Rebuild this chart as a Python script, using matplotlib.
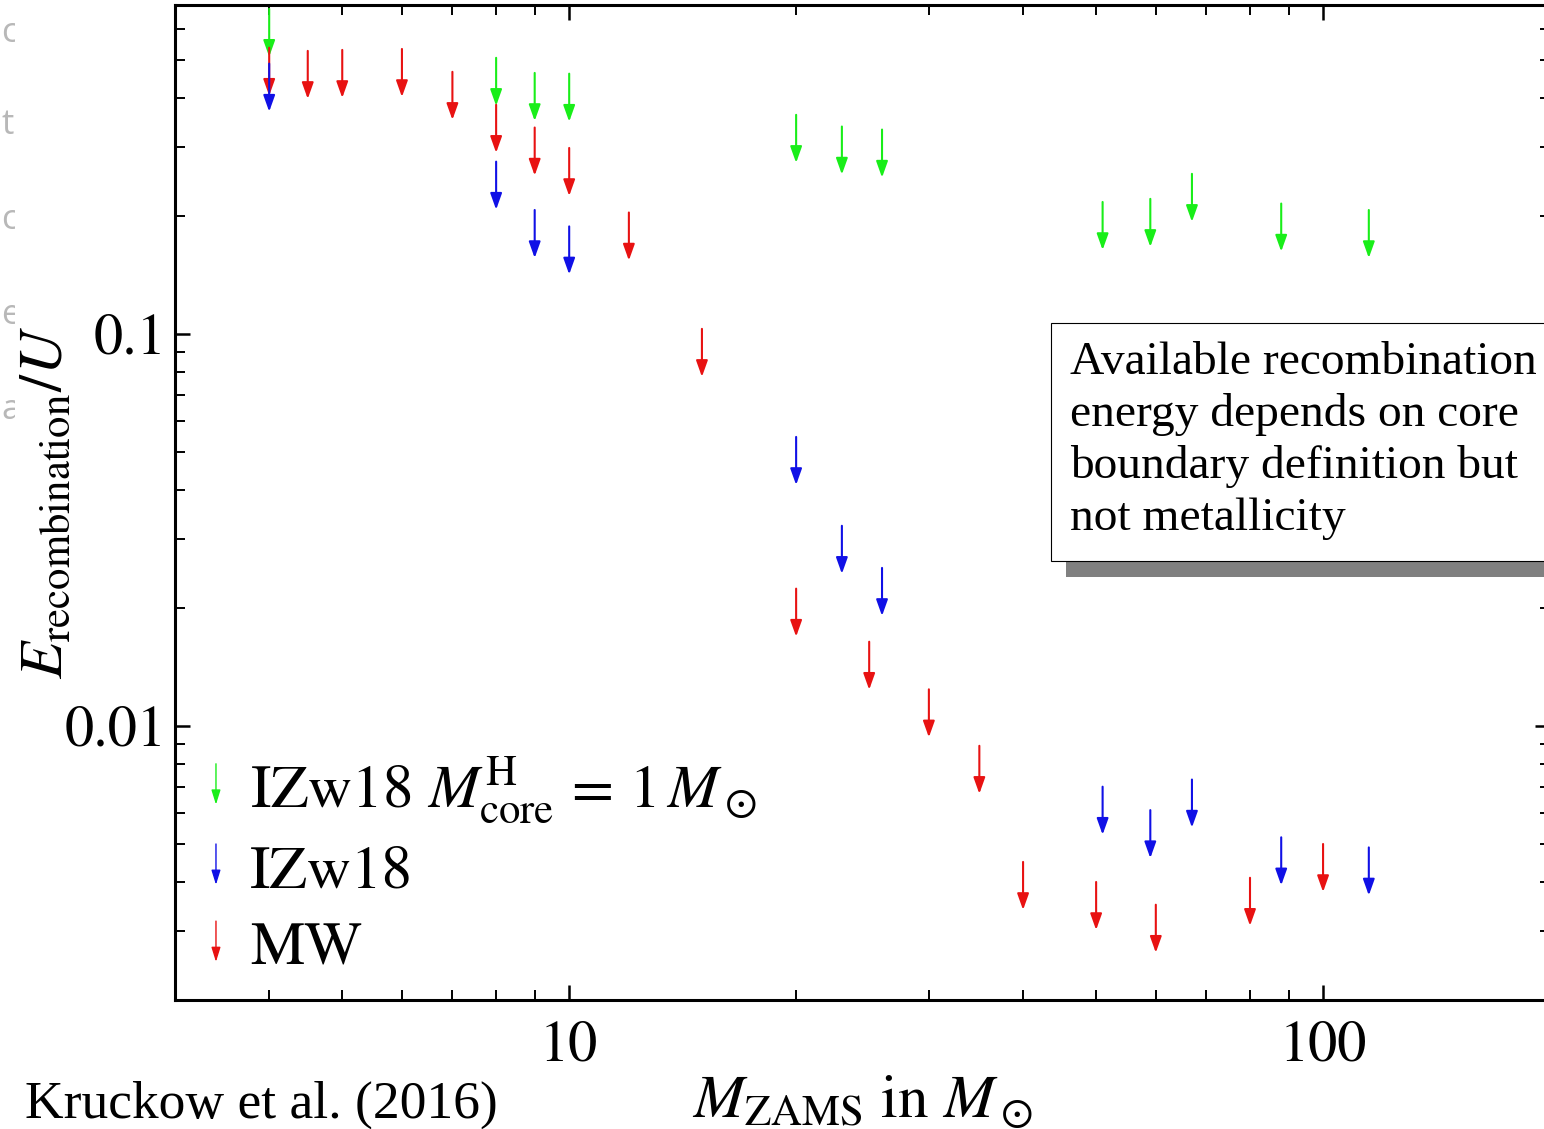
import matplotlib
matplotlib.use("Agg")
import matplotlib.pyplot as plt
import matplotlib.transforms as mtransforms
from matplotlib.patches import Rectangle
from matplotlib.ticker import FixedLocator, LogLocator, NullFormatter

plt.rcParams['mathtext.fontset'] = 'stix'
plt.rcParams['font.family'] = ['STIXGeneral', 'DejaVu Serif']

# upper limits on E_rec/U (value = top of each arrow)
mw_mass = [4, 4.5, 5, 6, 7, 8, 9, 10, 12, 15, 20, 25, 30, 35, 40, 50, 60, 80, 100]
mw_erec = [0.537, 0.527, 0.530, 0.533, 0.466, 0.384, 0.336, 0.298, 0.204, 0.103,
           0.0224, 0.0164, 0.0124, 0.0089, 0.0045, 0.0040, 0.0035, 0.0041, 0.0050]

izw_mass = [4, 8, 9, 10, 20, 23, 26, 51, 59, 67, 88, 115]
izw_erec = [0.489, 0.275, 0.207, 0.188, 0.0546, 0.0324, 0.0253,
            0.0070, 0.0061, 0.0073, 0.0052, 0.0049]

core_mass = [4, 8, 9, 10, 20, 23, 26, 51, 59, 67, 88, 115]
core_erec = [0.675, 0.506, 0.463, 0.461, 0.362, 0.338, 0.332,
             0.217, 0.221, 0.256, 0.215, 0.207]

series_labels = [r'IZw18 $M^{\rm H}_{\rm core}\,=\,1\,M_\odot$', 'IZw18', 'MW']
series_colors = ['#19ee19', '#1010e6', '#e81212']

x_ticks = [10, 100]
x_ticklabels = ['10', '100']
y_ticks = [0.01, 0.1]
y_ticklabels = ['0.01', '0.1']

fig = plt.figure(figsize=(15.44, 11.29), dpi=100)
W, H = 1544.0, 1129.0
ax = fig.add_axes([175 / W, 1 - 1000 / H, 1375 / W, 995 / H])
ax.set_xscale('log')
ax.set_yscale('log')
ax.set_xlim(3, 200)
ax.set_ylim(0.002, 0.69)

ax.xaxis.set_major_locator(FixedLocator(x_ticks))
ax.set_xticklabels(x_ticklabels)
ax.yaxis.set_major_locator(FixedLocator(y_ticks))
ax.set_yticklabels(y_ticklabels)
ax.xaxis.set_minor_locator(LogLocator(base=10, subs=range(2, 10)))
ax.yaxis.set_minor_locator(LogLocator(base=10, subs=range(2, 10)))
ax.xaxis.set_minor_formatter(NullFormatter())
ax.yaxis.set_minor_formatter(NullFormatter())

ax.tick_params(which='both', direction='in', top=True, right=True)
ax.tick_params(which='major', length=11, width=1.8, labelsize=42)
ax.tick_params(axis='x', which='major', pad=15)
ax.tick_params(axis='y', which='major', pad=6)
ax.tick_params(which='minor', length=7, width=1.4)
for sp in ax.spines.values():
    sp.set_linewidth(2.2)

ax.set_xlabel(r'$M_{\rm ZAMS}$ in $M_\odot$', fontsize=44, labelpad=0)
ax.set_ylabel(r'$E_{\rm recombination}/U$', fontsize=44)
ax.yaxis.set_label_coords(-0.073, 0.5)

# arrows: tail at the value, head 48 px below
head_tr = mtransforms.offset_copy(ax.transData, fig=fig, x=0, y=-48, units='dots')
arrow_kw = dict(arrowstyle='-|>,head_length=0.7,head_width=0.25',
                mutation_scale=14, lw=1.5, shrinkA=0, shrinkB=0)

def draw_limits(masses, values, color):
    for m, e in zip(masses, values):
        ax.annotate('', xy=(m, e), xycoords=head_tr, xytext=(m, e),
                    textcoords='data', arrowprops=dict(color=color, **arrow_kw))

draw_limits(core_mass, core_erec, series_colors[0])
draw_limits(mw_mass, mw_erec, series_colors[2])
draw_limits(izw_mass, izw_erec, series_colors[1])

# hand-made legend
leg_kw = dict(arrowstyle='-|>,head_length=0.8,head_width=0.25',
              mutation_scale=11, lw=1.0, shrinkA=0, shrinkB=0)
leg_y = [0.1934, 0.1128, 0.0353]
for lab, col, yb in zip(series_labels, series_colors, leg_y):
    ax.annotate('', xy=(0.0298, yb + 0.003), xycoords='axes fraction',
                xytext=(0.0298, yb + 0.044), textcoords='axes fraction',
                arrowprops=dict(color=col, **leg_kw))
    ax.text(0.0545, yb, lab, transform=ax.transAxes, fontsize=44, va='baseline')

# comment box with shadow
fig.patches.append(Rectangle((1066 / W, 1 - 577 / H), 0.7, 238 / H,
                             transform=fig.transFigure, facecolor='#808080',
                             edgecolor='none', zorder=5))
fig.patches.append(Rectangle((1051 / W, 1 - 561 / H), 0.7, 238 / H,
                             transform=fig.transFigure, facecolor='white',
                             edgecolor='black', lw=0.8, zorder=6))
fig.text(1070 / W, 1 - 341 / H,
         'Available recombination\nenergy depends on core\nboundary definition but\nnot metallicity',
         family='Liberation Serif', fontsize=34.2, va='top', ha='left',
         linespacing=1.28, zorder=7)

fig.text(25 / W, 1 - 1118 / H, 'Kruckow et al. (2016)', family='Liberation Serif',
         fontsize=38.5, va='baseline', ha='left')

# slide text peeking out from behind the chart
for ch, yy in zip(['c', 't', 'c', 'e', 'a'], [33, 125, 220, 315, 410]):
    fig.text(1 / W, 1 - yy / H, ch, family='Open Sans', fontsize=25,
             color='#b8b8b8', va='center', ha='left', zorder=-2)
fig.patches.append(Rectangle((15 / W, 1 - 460 / H), 160 / W, 460 / H,
                             transform=fig.transFigure, facecolor='white',
                             edgecolor='none', zorder=-1))

plt.savefig('out.png', dpi=100)
